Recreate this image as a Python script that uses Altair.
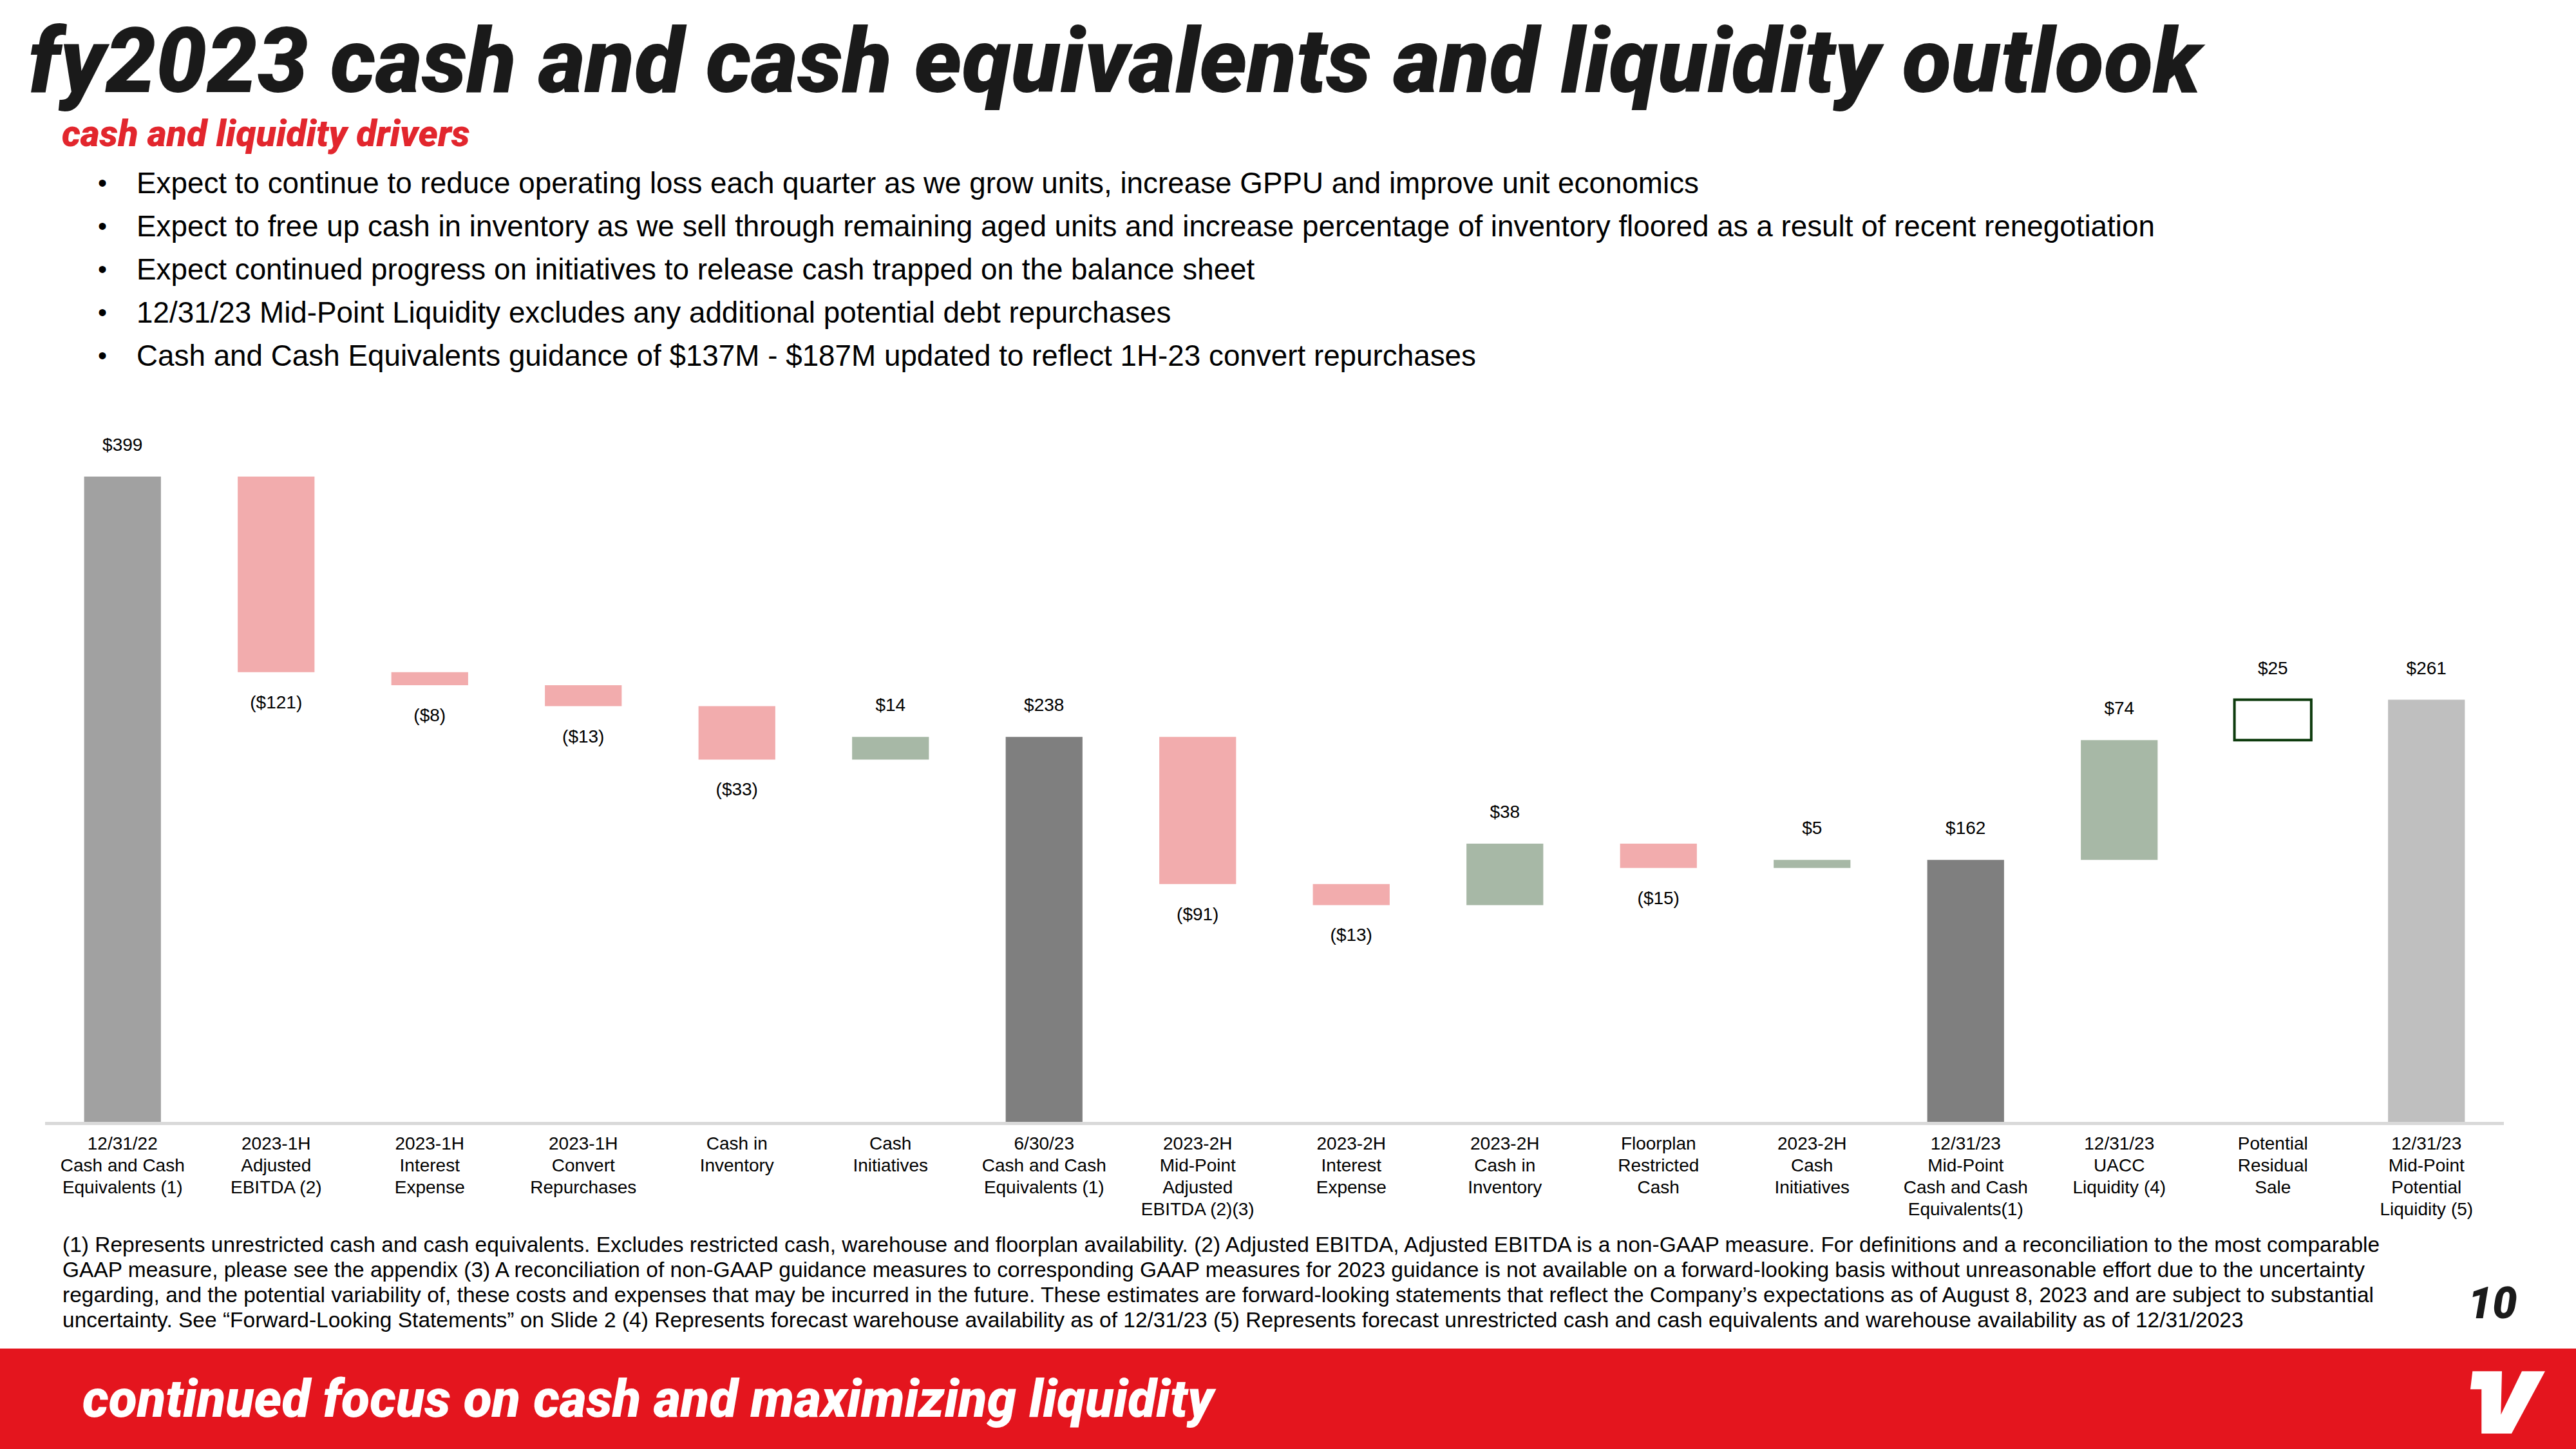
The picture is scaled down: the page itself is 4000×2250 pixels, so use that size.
import altair as alt
import pandas as pd

# ---------------- data ----------------
categories = [
    "12/31/22\nCash and Cash\nEquivalents (1)",
    "2023-1H\nAdjusted\nEBITDA (2)",
    "2023-1H\nInterest\nExpense",
    "2023-1H\nConvert\nRepurchases",
    "Cash in\nInventory",
    "Cash\nInitiatives",
    "6/30/23\nCash and Cash\nEquivalents (1)",
    "2023-2H\nMid-Point\nAdjusted\nEBITDA (2)(3)",
    "2023-2H\nInterest\nExpense",
    "2023-2H\nCash in\nInventory",
    "Floorplan\nRestricted\nCash",
    "2023-2H\nCash\nInitiatives",
    "12/31/23\nMid-Point\nCash and Cash\nEquivalents(1)",
    "12/31/23\nUACC\nLiquidity (4)",
    "Potential\nResidual\nSale",
    "12/31/23\nMid-Point\nPotential\nLiquidity (5)",
]
values = [399, -121, -8, -13, -33, 14, 238, -91, -13, 38, -15, 5, 162, 74, 25, 261]
kinds = ["start", "decrease", "decrease", "decrease", "decrease", "increase",
         "subtotal", "decrease", "decrease", "increase", "decrease", "increase",
         "subtotal", "increase", "potential", "end"]

title_text = "fy2023 cash and cash equivalents and liquidity outlook"
subtitle_text = "cash and liquidity drivers"
bullets = [
    "Expect to continue to reduce operating loss each quarter as we grow units, increase GPPU and improve unit economics",
    "Expect to free up cash in inventory as we sell through remaining aged units and increase percentage of inventory floored as a result of recent renegotiation",
    "Expect continued progress on initiatives to release cash trapped on the balance sheet",
    "12/31/23 Mid-Point Liquidity excludes any additional potential debt repurchases",
    "Cash and Cash Equivalents guidance of $137M - $187M updated to reflect 1H-23 convert repurchases",
]
footnotes = [
    "(1) Represents unrestricted cash and cash equivalents.  Excludes restricted cash, warehouse and floorplan availability. (2) Adjusted EBITDA, Adjusted EBITDA is a non-GAAP measure. For definitions and a reconciliation to the most comparable",
    "GAAP measure, please see the appendix (3) A reconciliation of non-GAAP guidance measures to corresponding GAAP measures for 2023 guidance is not available on a forward-looking basis without unreasonable effort due to the uncertainty",
    "regarding, and the potential variability of, these costs and expenses that may be incurred in the future. These estimates are forward-looking statements that reflect the Company\u2019s expectations as of August 8, 2023 and are subject to substantial",
    "uncertainty.  See \u201cForward-Looking Statements\u201d on Slide 2 (4) Represents forecast warehouse availability as of 12/31/23 (5) Represents forecast unrestricted cash and cash equivalents and warehouse availability as of 12/31/2023",
]
footer_text = "continued focus on cash and maximizing liquidity"
page_number = "10"

# ---------------- waterfall table ----------------
rows = []
running = 0
for cat, v, k in zip(categories, values, kinds):
    if k in ("start", "subtotal", "end"):
        lo, hi = 0, v
        running = v
    else:
        lo, hi = min(running, running + v), max(running, running + v)
        running += v
    label = f"${v}" if v >= 0 else f"(${abs(v)})"
    rows.append({"cat": cat, "lo": lo, "hi": hi, "kind": k, "label": label})
df = pd.DataFrame(rows)

one = pd.DataFrame({"a": [0]})

LABEL_FONT = "Liberation Sans, Arial, sans-serif"
HEAD_FONT = "Roboto, Liberation Sans, sans-serif"

xscale = alt.Scale(domain=categories, range=[71, 3887], paddingInner=0.5, paddingOuter=0.25)
yscale = alt.Scale(domain=[0, 399], range=[1742, 740], nice=False, zero=False)
X = alt.X("cat:N", scale=xscale, axis=None, sort=None)

kind_domain = ["start", "decrease", "increase", "subtotal", "end"]
kind_range = ["#A1A1A1", "#F2ACAD", "#A7B8A6", "#7F7F7F", "#BFBFBF"]

bars = alt.Chart(df).transform_filter(alt.datum.kind != "potential").mark_bar().encode(
    x=X,
    y=alt.Y("lo:Q", scale=yscale, axis=None),
    y2="hi:Q",
    color=alt.Color("kind:N", scale=alt.Scale(domain=kind_domain, range=kind_range), legend=None),
)
potential = alt.Chart(df).transform_filter(alt.datum.kind == "potential").mark_bar(
    fill="white", stroke="#0D3B0D", strokeWidth=4
).encode(x=X, y=alt.Y("lo:Q", scale=yscale, axis=None), y2="hi:Q")

pos_labels = alt.Chart(df).transform_filter(alt.datum.kind != "decrease").mark_text(
    font=LABEL_FONT, fontSize=28, color="#000000", baseline="middle", dy=-48
).encode(x=X, y=alt.Y("hi:Q", scale=yscale, axis=None), text="label:N")
neg_labels = alt.Chart(df).transform_filter(alt.datum.kind == "decrease").mark_text(
    font=LABEL_FONT, fontSize=28, color="#000000", baseline="middle", dy=48
).encode(x=X, y=alt.Y("lo:Q", scale=yscale, axis=None), text="label:N")

cat_labels = alt.Chart(df).mark_text(
    font=LABEL_FONT, fontSize=28, color="#000000", baseline="top", align="center",
    lineBreak="\n", lineHeight=34
).encode(x=X, y=alt.value(1763), text="cat:N")

baseline = alt.Chart(one).mark_rule(color="#D9D9D9", strokeWidth=5).encode(
    x=alt.value(70), x2=alt.value(3888), y=alt.value(1744.5)
)

layers = [baseline, bars, potential, pos_labels, neg_labels, cat_labels]

# title and subtitle
layers.append(alt.Chart(one).mark_text(
    text=title_text, font=HEAD_FONT, fontSize=140, fontWeight=900, fontStyle="italic",
    color="#1A1A1A", align="left", baseline="alphabetic"
).encode(x=alt.value(44), y=alt.value(143)))
layers.append(alt.Chart(one).mark_text(
    text=subtitle_text, font=HEAD_FONT, fontSize=57.5, fontWeight=900, fontStyle="italic",
    color="#E2262D", align="left", baseline="alphabetic"
).encode(x=alt.value(96), y=alt.value(227)))

# bullets
for i, b in enumerate(bullets):
    yy = 286 + i * 67
    layers.append(alt.Chart(one).mark_text(
        text="\u2022", font=LABEL_FONT, fontSize=40, color="#000000", align="left", baseline="middle"
    ).encode(x=alt.value(152), y=alt.value(yy)))
    layers.append(alt.Chart(one).mark_text(
        text=b, font=LABEL_FONT, fontSize=45.8, color="#000000", align="left", baseline="middle"
    ).encode(x=alt.value(212), y=alt.value(yy)))

# footnotes
for i, f in enumerate(footnotes):
    yy = 1934 + i * 39
    layers.append(alt.Chart(one).mark_text(
        text=f, font=LABEL_FONT, fontSize=33.5, color="#000000", align="left", baseline="middle"
    ).encode(x=alt.value(97), y=alt.value(yy)))

# page number
layers.append(alt.Chart(one).mark_text(
    text=page_number, font=HEAD_FONT, fontSize=68, fontWeight=900, fontStyle="italic",
    color="#1A1A1A", align="left", baseline="alphabetic"
).encode(x=alt.value(3832), y=alt.value(2047)))

# footer band
layers.append(alt.Chart(one).mark_rect(color="#E4151E").encode(
    x=alt.value(0), x2=alt.value(4000), y=alt.value(2094), y2=alt.value(2250)
))
layers.append(alt.Chart(one).mark_text(
    text=footer_text, font=HEAD_FONT, fontSize=81, fontWeight=900, fontStyle="italic",
    color="#FFFFFF", align="left", baseline="alphabetic"
).encode(x=alt.value(128), y=alt.value(2200)))

# logo (decorative V shape)
logo_path = ("M -0.943 -0.84 L -0.155 -0.84 L -0.184 0.322 L 0.379 -0.84 L 1.0 -0.84 "
             "L 0.103 0.828 L -0.702 0.828 L -0.702 -0.357 L -1.0 -0.357 Z")
layers.append(alt.Chart(one).mark_point(
    shape=logo_path, size=13456, filled=True, fill="#FFFFFF", opacity=1
).encode(x=alt.value(3894), y=alt.value(2178)))

chart = alt.layer(*layers).properties(
    width=4000, height=2250, padding=0, autosize=alt.AutoSizeParams(type="none"),
    background="white"
).configure_view(stroke=None)

chart.save("out.html", embed_options={"renderer": "svg", "actions": False})
